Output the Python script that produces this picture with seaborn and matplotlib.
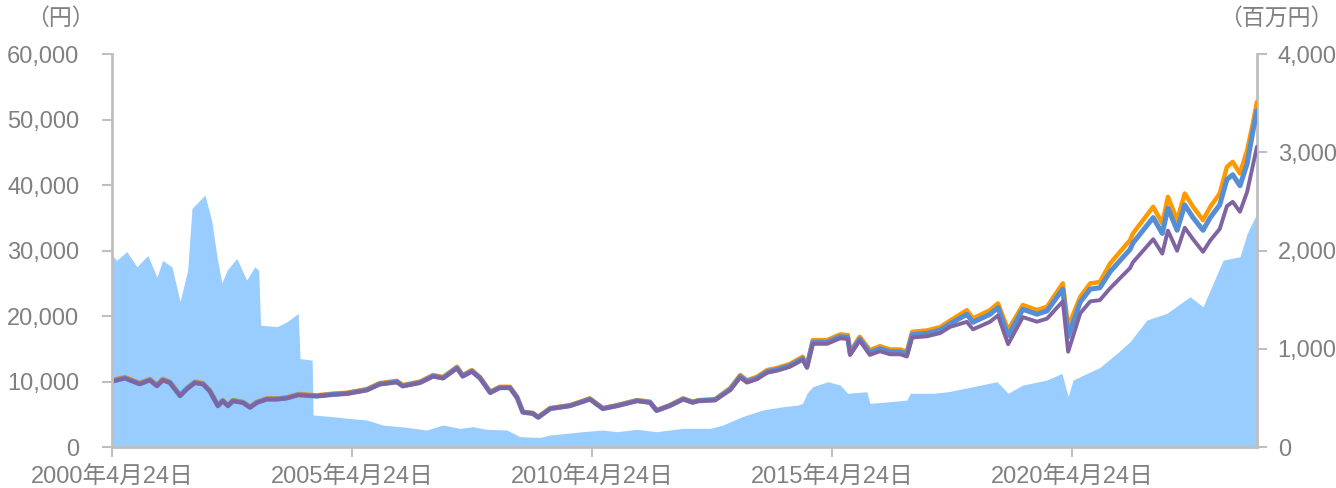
import pandas as pd
import seaborn as sns
import matplotlib.pyplot as plt

# 基準価額（円）: 3 series sharing the same dates
dates = [
    "2000-04-24", "2000-07-31", "2000-11-21",
    "2001-02-06", "2001-04-01", "2001-05-15", "2001-07-09", "2001-09-24", "2001-11-14",
    "2002-01-15", "2002-03-18", "2002-05-08", "2002-07-09", "2002-08-15", "2002-09-24", "2002-10-31",
    "2003-01-15", "2003-03-11", "2003-05-01", "2003-07-16", "2003-10-01", "2003-12-17",
    "2004-03-11", "2004-07-31", "2004-11-29",
    "2005-03-18", "2005-08-15", "2005-11-21",
    "2006-04-01", "2006-05-15", "2006-09-24",
    "2007-01-01", "2007-03-18", "2007-07-02", "2007-08-15", "2007-10-23", "2007-12-24",
    "2008-03-11", "2008-05-22", "2008-08-08", "2008-10-01", "2008-11-14",
    "2009-01-29", "2009-03-11", "2009-06-10", "2009-11-07",
    "2010-01-22", "2010-04-08", "2010-07-16", "2010-10-31",
    "2011-04-01", "2011-07-09", "2011-08-29", "2011-12-06",
    "2012-03-18", "2012-05-30", "2012-07-12", "2012-11-15",
    "2013-03-11", "2013-05-26", "2013-07-16", "2013-10-01", "2013-12-17",
    "2014-02-28", "2014-06-06", "2014-09-13", "2014-10-16", "2014-11-29",
    "2015-03-18", "2015-06-25", "2015-08-22", "2015-09-09", "2015-11-21",
    "2016-02-06", "2016-04-23", "2016-07-09", "2016-09-24", "2016-11-14", "2016-12-24",
    "2017-04-15", "2017-07-24", "2017-10-08",
    "2018-02-13", "2018-04-01", "2018-08-08", "2018-10-08", "2018-12-24",
    "2019-04-15", "2019-07-31", "2019-10-16",
    "2020-02-13", "2020-03-25", "2020-06-25", "2020-09-09", "2020-11-21",
    "2021-02-06", "2021-04-23", "2021-07-09", "2021-07-31", "2021-10-16",
    "2022-01-01", "2022-03-11", "2022-04-23", "2022-07-02", "2022-08-29", "2022-10-31",
    "2023-01-15", "2023-03-11", "2023-05-22", "2023-07-16", "2023-08-29", "2023-10-23", "2023-12-17",
    "2024-01-29", "2024-02-29",
]

price_orange = [
    10200, 10700, 9800,
    10400, 9500, 10400, 10000, 7950, 9000,
    10000, 9770, 8700, 6400, 7170, 6400, 7170,
    6900, 6150, 6900, 7430, 7430, 7600,
    8100, 7900, 8150,
    8300, 8850, 9770,
    10100, 9470, 10000,
    11000, 10700, 12260, 11000, 11760, 10700,
    8450, 9200, 9200, 7680, 5400,
    5200, 4600, 5950, 6400,
    6900, 7430, 5950, 6400,
    7170, 6920, 5650, 6400,
    7430, 6920, 7170, 7300,
    9000, 11000, 10200, 10730, 11760,
    12060, 12670, 13790, 12520, 16330,
    16330, 17200, 17100, 14550, 16840,
    14800, 15400, 14900, 14900, 14550, 17600,
    17800, 18300, 19300,
    20900, 19640, 20900, 21940, 17860,
    21680, 20920, 21420,
    24990, 18370, 22950, 24990, 25200,
    28000, 29800, 31600, 32620, 34660,
    36690, 34150, 38210, 34660, 38720, 36690,
    34660, 36690, 38720, 42790, 43550, 41780, 45340,
    49400, 52700,
]

price_blue = [
    10050, 10540, 9650,
    10240, 9360, 10240, 9850, 7830, 8870,
    9850, 9620, 8570, 6300, 7060, 6300, 7060,
    6800, 6060, 6800, 7320, 7320, 7490,
    7980, 7780, 8030,
    8180, 8720, 9620,
    9950, 9330, 9850,
    10840, 10540, 12080, 10840, 11580, 10540,
    8320, 9060, 9060, 7560, 5320,
    5120, 4530, 5860, 6300,
    6800, 7320, 5860, 6300,
    7060, 6820, 5570, 6300,
    7320, 6820, 7060, 7190,
    8820, 10780, 10000, 10520, 11520,
    11820, 12420, 13510, 12270, 16000,
    16000, 16860, 16760, 14260, 16500,
    14430, 15020, 14530, 14530, 14190, 17160,
    17360, 17840, 18820,
    20270, 19050, 20270, 21280, 17000,
    21030, 20290, 20780,
    24120, 16840, 22150, 24120, 24320,
    26740, 28460, 30180, 31150, 33100,
    35040, 32610, 36490, 33100, 36980, 35040,
    33100, 35040, 36980, 40860, 41590, 39900, 43300,
    48170, 51380,
]

price_purple = [
    10000, 10490, 9600,
    10190, 9310, 10190, 9800, 7790, 8820,
    9800, 9570, 8530, 6270, 7030, 6270, 7030,
    6760, 6030, 6760, 7280, 7280, 7450,
    7940, 7740, 7990,
    8130, 8670, 9570,
    9900, 9280, 9800,
    10780, 10490, 12010, 10780, 11520, 10490,
    8280, 9020, 9020, 7530, 5290,
    5100, 4510, 5830, 6270,
    6760, 7280, 5830, 6270,
    7030, 6780, 5540, 6270,
    7280, 6780, 7030, 7150,
    8690, 10620, 9840, 10350, 11350,
    11640, 12230, 13310, 12080, 15760,
    15760, 16600, 16500, 14040, 16250,
    14060, 14630, 14160, 14160, 13820, 16720,
    16910, 17390, 18340,
    19120, 17970, 19120, 20080, 15700,
    19840, 19140, 19600,
    22240, 14550, 20430, 22240, 22430,
    24220, 25780, 27330, 28220, 29980,
    31740, 29540, 33050, 29980, 33490, 31740,
    29810, 31550, 33300, 36800, 37450, 35930, 38990,
    42980, 45850,
]

# 純資産総額（百万円）
asset_dates = [
    "2000-04-24", "2000-05-30", "2000-08-15", "2000-10-31", "2001-01-22", "2001-04-01",
    "2001-05-15", "2001-07-24", "2001-09-24", "2001-11-21", "2001-12-24", "2002-04-01",
    "2002-05-22", "2002-07-02", "2002-08-08", "2002-09-17", "2002-11-29", "2003-02-13",
    "2003-04-15", "2003-05-15", "2003-05-30", "2003-10-01", "2003-12-17", "2004-03-11",
    "2004-03-25", "2004-06-25", "2004-07-02", "2004-11-29", "2005-03-25", "2005-08-15",
    "2005-12-13", "2006-06-17", "2006-11-14", "2007-03-18", "2007-07-24", "2007-10-31",
    "2008-02-13", "2008-07-16", "2008-10-23", "2009-03-25", "2009-06-10", "2010-02-13",
    "2010-07-16", "2010-10-31", "2011-04-01", "2011-08-29", "2012-03-18", "2012-10-08",
    "2013-01-15", "2013-06-10", "2013-11-14", "2014-04-15", "2014-08-08", "2014-09-13",
    "2014-10-16", "2014-11-29", "2015-03-25", "2015-06-25", "2015-08-22", "2016-01-15",
    "2016-02-06", "2016-07-09", "2016-11-14", "2016-12-10", "2017-05-30", "2017-09-24",
    "2018-04-01", "2018-10-01", "2018-12-24", "2019-04-15", "2019-10-16", "2020-02-06",
    "2020-03-25", "2020-05-01", "2020-11-21", "2021-04-01", "2021-07-09", "2021-11-14",
    "2022-04-15", "2022-10-08", "2023-01-15", "2023-06-17", "2023-10-23", "2023-12-17",
    "2024-02-29",
]

assets = [
    1950, 1900, 1990, 1835, 1950, 1730,
    1900, 1835, 1480, 1800, 2430, 2565,
    2310, 1940, 1670, 1800, 1920, 1700,
    1835, 1800, 1240, 1225, 1275, 1360,
    900, 885, 326, 309, 292, 275,
    224, 200, 173, 224, 190, 207,
    180, 173, 105, 98, 122, 156,
    173, 156, 180, 156, 190, 190,
    224, 309, 377, 410, 427, 445,
    547, 614, 665, 631, 547, 563,
    445, 461, 478, 547, 547, 563,
    614, 665, 547, 631, 682, 750,
    512, 682, 810, 954, 1072, 1293,
    1361, 1530, 1428, 1903, 1937, 2175,
    2378,
]

tick_dates = ["2000-04-24", "2005-04-24", "2010-04-24", "2015-04-24", "2020-04-24"]

series_names = ["orange", "blue", "purple"]
colors = {"orange": "#FF9900", "blue": "#558ED5", "purple": "#8064A2"}
widths = {"orange": 3.2, "blue": 3.6, "purple": 2.8}

df = pd.DataFrame({"date": pd.to_datetime(dates),
                   "orange": price_orange, "blue": price_blue, "purple": price_purple})
long_df = df.melt(id_vars="date", var_name="series", value_name="price")
assets_df = pd.DataFrame({"date": pd.to_datetime(asset_dates), "assets": assets})

sns.set_style("white")
plt.rcParams["font.family"] = ["Liberation Sans", "Noto Sans CJK JP"]

gray = "#808080"
spine_gray = "#BFBFBF"

fig = plt.figure(figsize=(13.36, 4.88), dpi=100)
ax = fig.add_axes([0.0838, 0.084, 0.857, 0.805])
ax2 = ax.twinx()

ax2.fill_between(assets_df["date"], assets_df["assets"], 0, color="#99CCFF", linewidth=0)
ax2.set_ylim(0, 4000)
ax2.set_yticks([0, 1000, 2000, 3000, 4000])

for name in series_names:
    sns.lineplot(data=long_df[long_df["series"] == name], x="date", y="price",
                 color=colors[name], linewidth=widths[name], ax=ax, legend=False)

ax.set_zorder(ax2.get_zorder() + 1)
ax.patch.set_visible(False)

ax.set_ylim(0, 60000)
ax.set_yticks(range(0, 60001, 10000))
ax.set_xlim(pd.Timestamp("2000-04-24"), pd.Timestamp("2024-02-29"))
ticks = pd.to_datetime(tick_dates)
ax.set_xticks(ticks)
ax.set_xticklabels([f"{d.year}年{d.month}月{d.day}日" for d in ticks])
ax.set_xlabel("")
ax.set_ylabel("")
ax.yaxis.set_major_formatter(plt.FuncFormatter(lambda v, p: f"{int(v):,}"))
ax2.yaxis.set_major_formatter(plt.FuncFormatter(lambda v, p: f"{int(v):,}"))

for a in (ax, ax2):
    for side in ["top", "left", "right", "bottom"]:
        a.spines[side].set_visible(False)

ax.spines["left"].set_visible(True)
ax.spines["bottom"].set_visible(True)
ax2.spines["right"].set_visible(True)
for sp in (ax.spines["left"], ax.spines["bottom"], ax2.spines["right"]):
    sp.set_color(spine_gray)
    sp.set_linewidth(2)

ax.tick_params(axis="y", left=True, length=7, width=1.5, color=spine_gray,
               labelsize=17, labelcolor=gray, pad=16.5)
ax.tick_params(axis="x", bottom=True, length=7, width=1.5, color=spine_gray,
               labelsize=17, labelcolor=gray, pad=7)
ax2.tick_params(axis="y", right=True, length=7, width=1.5, color=spine_gray,
                labelsize=17, labelcolor=gray, pad=8)

fig.text(0.045, 0.962, "（円）", fontsize=16.5, color=gray, va="center", ha="center")
fig.text(0.998, 0.962, "（百万円）", fontsize=16.5, color=gray, va="center", ha="right")

fig.savefig("out.png", dpi=100)
